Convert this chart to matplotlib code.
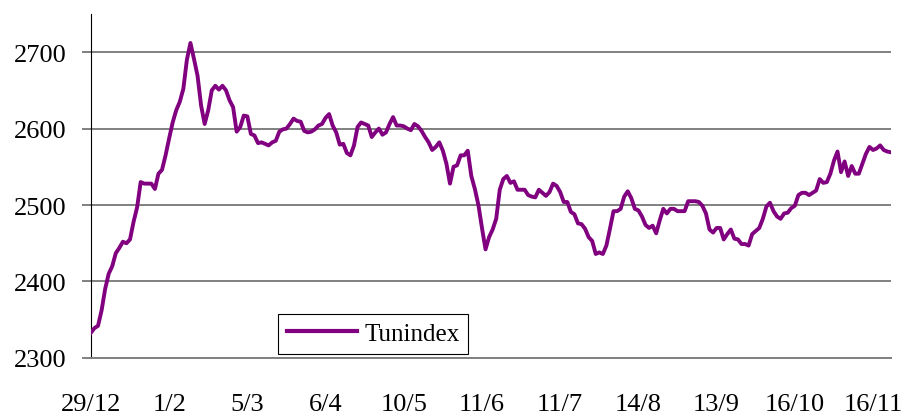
import numpy as np
import matplotlib
matplotlib.use("Agg")
from matplotlib import pyplot as plt

plt.rcParams["font.family"] = ["Liberation Serif", "DejaVu Serif"]

# Tunindex daily closes (one value per trading day)
tunindex = [
    2333, 2339, 2342, 2362, 2390, 2410, 2420, 2437, 2444, 2452,
    2450, 2455, 2478, 2497, 2530, 2528, 2528, 2528, 2521, 2541,
    2546, 2565, 2587, 2608, 2624, 2635, 2652, 2690, 2712,
    2691, 2669, 2630, 2606, 2624, 2650, 2656, 2651, 2656, 2650,
    2637, 2628, 2596, 2602, 2617, 2616, 2593, 2591, 2581, 2582,
    2580, 2578, 2582, 2584, 2596, 2599, 2600, 2606,
    2613, 2610, 2609, 2597, 2595, 2596, 2599, 2604, 2606, 2614,
    2619, 2604, 2595, 2579, 2580, 2568, 2565, 2578, 2602, 2608,
    2606, 2604, 2589, 2595, 2600, 2592, 2595, 2606, 2615,
    2604, 2604, 2603, 2600, 2598, 2606, 2603, 2597, 2589, 2582,
    2572, 2576, 2582, 2571, 2554, 2528, 2550, 2552, 2565, 2565,
    2571, 2538, 2521, 2500, 2470, 2442, 2458, 2468,
    2482, 2520, 2534, 2538, 2529, 2531, 2520, 2520, 2520, 2513,
    2511, 2510, 2520, 2516, 2512, 2517, 2528, 2525, 2517, 2504,
    2504, 2491, 2488, 2476, 2475, 2469, 2458, 2453,
    2436, 2438, 2436, 2447, 2469, 2492, 2492, 2495, 2511, 2518,
    2509, 2495, 2493, 2485, 2474, 2470, 2473, 2463, 2480, 2495,
    2489, 2495, 2495, 2492, 2492, 2492, 2505,
    2505, 2505, 2504, 2499, 2489, 2468, 2464, 2470, 2470, 2455,
    2462, 2468, 2456, 2455, 2449, 2449, 2447, 2462, 2466, 2470,
    2482, 2498, 2503, 2492, 2485, 2482, 2489, 2490,
    2496, 2499, 2513, 2516, 2516, 2513, 2516, 2519, 2534, 2529,
    2530, 2541, 2558, 2570, 2543, 2557, 2538, 2551, 2541, 2541,
    2554, 2567, 2576, 2572, 2574, 2578, 2572, 2570, 2569,
]
date_labels = ["29/12", "1/2", "5/3", "6/4", "10/5", "11/6",
               "11/7", "14/8", "13/9", "16/10", "16/11"]
label_step = 22
y_ticks = [2300, 2400, 2500, 2600, 2700]

days = np.arange(len(tunindex))

fig = plt.figure(figsize=(9.09, 4.14), dpi=100)
ax = fig.add_axes([0.1, 0.133, 0.88, 0.831])

ax.plot(days, tunindex, color="#800080", linewidth=2.8, label="Tunindex",
        solid_joinstyle="round", zorder=3)

ax.set_xlim(0, len(tunindex) - 1)
ax.set_ylim(2300, 2750)
ax.set_yticks(y_ticks)
ax.set_xticks(np.arange(len(date_labels)) * label_step)
ax.set_xticklabels(date_labels)

ax.yaxis.grid(True, color="#808080", linewidth=1.4)
ax.set_axisbelow(True)

for side in ["top", "right"]:
    ax.spines[side].set_visible(False)
ax.spines["left"].set_color("black")
ax.spines["left"].set_linewidth(0.8)
ax.spines["bottom"].set_color("#808080")
ax.spines["bottom"].set_linewidth(1.4)

ax.tick_params(axis="y", length=6.5, width=1.4, color="#808080",
               pad=11, labelsize=19)
ax.tick_params(axis="x", length=0, pad=25, labelsize=19)

leg = ax.legend(loc="lower left", bbox_to_anchor=(0.234, 0.012),
                borderaxespad=0, fontsize=18, handlelength=2.8,
                handletextpad=0.3, borderpad=0.35, fancybox=False,
                framealpha=1, edgecolor="black")
leg.get_frame().set_linewidth(0.8)
leg.get_lines()[0].set_linewidth(3)

plt.savefig("out.png", dpi=100)
plt.close()
